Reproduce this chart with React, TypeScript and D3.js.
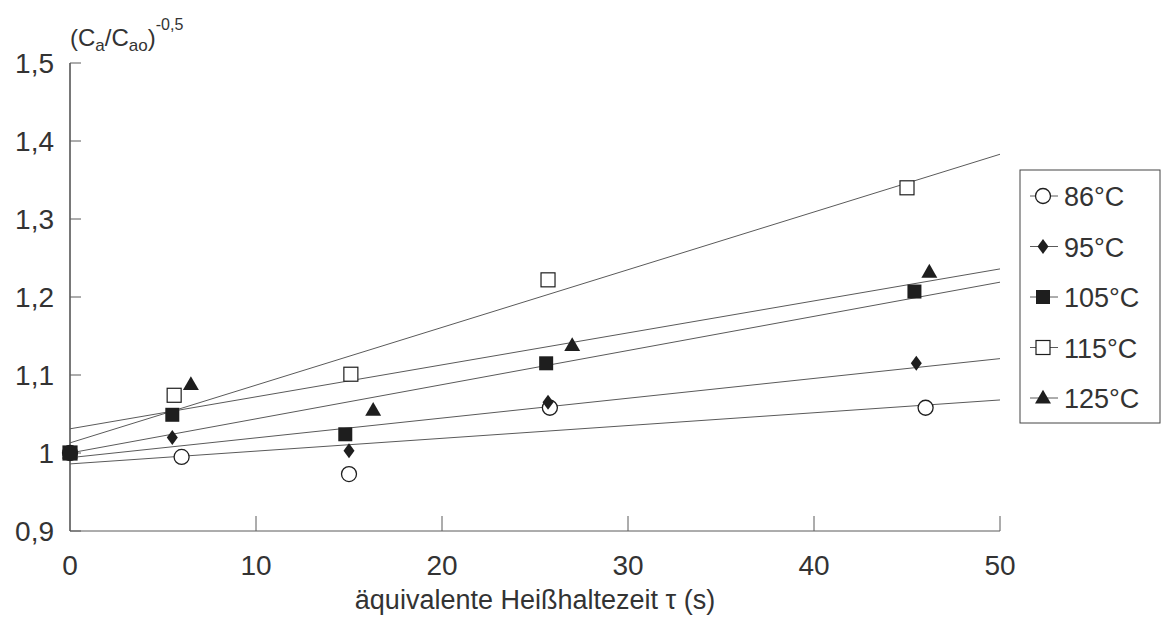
import React from 'react';
import * as d3 from 'd3';

const series = ['86°C', '95°C', '105°C', '115°C', '125°C'];
const shapes = ['circle', 'diamond', 'square', 'openSquare', 'triangle'];

const xs86 = [0, 6, 15, 25.8, 46];
const ys86 = [1.0, 0.995, 0.973, 1.058, 1.058];
const xs95 = [0, 5.5, 15, 25.7, 45.5];
const ys95 = [1.0, 1.02, 1.003, 1.065, 1.115];
const xs105 = [0, 5.5, 14.8, 25.6, 45.4];
const ys105 = [1.0, 1.049, 1.024, 1.115, 1.207];
const xs115 = [0, 5.6, 15.1, 25.7, 45];
const ys115 = [1.0, 1.074, 1.101, 1.222, 1.34];
const xs125 = [0, 6.5, 16.3, 27, 46.2];
const ys125 = [1.0, 1.088, 1.055, 1.138, 1.232];

// regression lines: value at tau = 0 and tau = 50
const fitStart = [0.986, 0.994, 1.0, 1.013, 1.031];
const fitEnd = [1.068, 1.121, 1.219, 1.383, 1.236];

const xTicks = [0, 10, 20, 30, 40, 50];
const yTicks = [0.9, 1.0, 1.1, 1.2, 1.3, 1.4, 1.5];

const allX = [xs86, xs95, xs105, xs115, xs125];
const allY = [ys86, ys95, ys105, ys115, ys125];
const drawOrder = [0, 1, 3, 4, 2]; // filled square ends up on top at tau = 0

const margin = { left: 70, top: 63 };
const W = 930;
const H = 468;

const ink = '#1e1e1e';
const lineCol = '#5a5a5a';

const fmt = (v: number) => (v === 1 ? '1' : v.toFixed(1).replace('.', ','));

function Marker({ shape, x, y }: { shape: string; x: number; y: number }) {
  if (shape === 'circle') {
    return <circle cx={x} cy={y} r={7.5} fill="white" stroke={ink} strokeWidth={1.3} />;
  }
  if (shape === 'diamond') {
    const p = d3.path();
    p.moveTo(0, -7.5);
    p.lineTo(5.5, 0);
    p.lineTo(0, 7.5);
    p.lineTo(-5.5, 0);
    p.closePath();
    return <path d={p.toString()} transform={`translate(${x},${y})`} fill={ink} />;
  }
  if (shape === 'square') {
    return <rect x={x - 7} y={y - 7} width={14} height={14} fill={ink} />;
  }
  if (shape === 'openSquare') {
    return <rect x={x - 7} y={y - 7} width={14} height={14} fill="white" stroke={ink} strokeWidth={1.2} />;
  }
  const p = d3.symbol().type(d3.symbolTriangle).size(110)();
  return <path d={p || ''} transform={`translate(${x},${y + 1})`} fill={ink} />;
}

export default function App() {
  const x = d3.scaleLinear().domain([0, 50]).range([0, W]);
  const y = d3.scaleLinear().domain([0.9, 1.5]).range([H, 0]);
  const font = 'Liberation Sans, Arial, sans-serif';

  return (
    <svg width={1163} height={630} style={{ position: 'absolute', left: 0, top: 0, background: 'white' }}>
      <g transform={`translate(${margin.left},${margin.top})`} fontFamily={font}>
        {/* axes */}
        <line x1={x(0)} x2={x(0)} y1={y(1.5)} y2={y(0.9)} stroke={ink} strokeWidth={1.2} />
        <line x1={x(0)} x2={x(50)} y1={y(0.9)} y2={y(0.9)} stroke={lineCol} strokeWidth={1} />
        {yTicks.map((t) => (
          <g key={'y' + t}>
            <line x1={x(0)} x2={x(0) + 11} y1={y(t)} y2={y(t)} stroke={lineCol} strokeWidth={1} />
            <text x={x(0) - 16} y={y(t) + 10} textAnchor="end" fontSize={28} fill="#333">
              {fmt(t)}
            </text>
          </g>
        ))}
        {xTicks.map((t) => (
          <g key={'x' + t}>
            {t > 0 && <line x1={x(t)} x2={x(t)} y1={y(0.9)} y2={y(0.9) - 15} stroke={lineCol} strokeWidth={1} />}
            <text x={x(t)} y={y(0.9) + 44} textAnchor="middle" fontSize={28} fill="#333">
              {t}
            </text>
          </g>
        ))}

        {/* regression lines */}
        {fitStart.map((s, i) => (
          <line key={'f' + i} x1={x(0)} y1={y(s)} x2={x(50)} y2={y(fitEnd[i])} stroke={lineCol} strokeWidth={1} />
        ))}

        {/* points */}
        {drawOrder.map((i) =>
          allX[i].map((v, j) => <Marker key={i + '-' + j} shape={shapes[i]} x={x(v)} y={y(allY[i][j])} />)
        )}

        {/* axis titles */}
        <text x={x(0)} y={-17} fontSize={24} fill="#333">
          (C<tspan fontSize={17} dy={5}>a</tspan>
          <tspan dy={-5}>/C</tspan>
          <tspan fontSize={17} dy={5}>ao</tspan>
          <tspan dy={-5}>)</tspan>
          <tspan fontSize={16} dy={-16}>-0,5</tspan>
        </text>
        <text x={x(25)} y={y(0.9) + 78} textAnchor="middle" fontSize={27} fill="#333">
          äquivalente Heißhaltezeit  τ (s)
        </text>
      </g>

      {/* legend */}
      <g fontFamily={font}>
        <rect x={1020} y={170} width={140} height={253} fill="white" stroke="#444" strokeWidth={1} />
        {series.map((s, i) => {
          const cy = 196 + i * 50.5;
          return (
            <g key={s}>
            <line x1={1030} x2={1058} y1={cy} y2={cy} stroke={lineCol} strokeWidth={1} />
            <Marker shape={shapes[i]} x={1043} y={cy} />
            <text x={1064} y={cy + 10} fontSize={27} fill="#333">
              {s}
            </text>
            </g>
          );
        })}
      </g>
    </svg>
  );
}
